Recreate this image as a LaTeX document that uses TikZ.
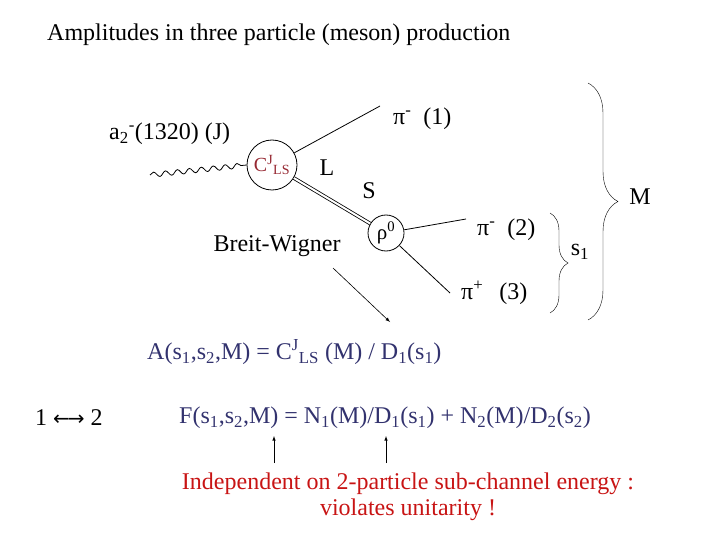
\documentclass[tikz,border=0pt]{standalone}
\usepackage{fontspec}
\setmainfont{Liberation Serif}
\newfontfamily\symfont{DejaVu Sans}
\usetikzlibrary{positioning,decorations.pathmorphing,decorations.pathreplacing}
\definecolor{eqblue}{RGB}{50,50,110}
\definecolor{vtxred}{RGB}{150,40,50}
\definecolor{txtred}{RGB}{200,20,20}
\newcommand{\dn}[1]{\textsubscript{#1}}
\newcommand{\up}[1]{\textsuperscript{#1}}

\begin{document}
\begin{tikzpicture}[x=1pt,y=-1pt,
        vertexnode/.style={circle, draw=black, thick, inner sep=0pt},
        plain/.style={font=\fontsize{24}{27}\selectfont, inner sep=1pt},
]
        \useasboundingbox (0,0) rectangle (720,540);
        \node[plain, anchor=west] (title) at (46,35) {Amplitudes in three particle (meson) production};

        \node[vertexnode, minimum size=50pt, text=vtxred, font=\fontsize{20}{20}\selectfont] (cvertex) at (272,165) {C\up{J}\dn{LS}};
        \node[vertexnode, minimum size=36pt, font=\fontsize{21}{21}\selectfont] (rho) at (386,233) {ρ\up{0}};
        \coordinate (wavein) at (150,175);
        \coordinate (pione) at (380,106);
        \coordinate (pitwo) at (466,219);
        \coordinate (pithree) at (450,293);

        \node[plain, anchor=west] (alabel) at (108,134) {a\dn{2}\up{-}(1320) (J)};
        \draw[thick, decorate, decoration={snake, amplitude=2.5pt, segment length=12pt}] (wavein) -- (cvertex.west);
        \draw[thick] (cvertex) -- (pione);
        \draw[thick, double, double distance=2pt] (cvertex) -- (rho);
        \draw[thick] (rho) -- (pitwo);
        \draw[thick] (rho) -- (pithree);

        \node[plain] (llabel) at (327,168) {L};
        \node[plain] (slabel) at (369,191) {S};
        \node[plain, anchor=west] (pionelabel) at (392,119) {π\up{-}\enspace(1)};
        \node[plain, anchor=west] (pitwolabel) at (476,230) {π\up{-}\enspace(2)};
        \node[plain, anchor=west] (pithreelabel) at (460,293) {π\up{+}\enspace\,(3)};
        \node[plain] (bwlabel) at (277,246) {Breit-Wigner};

        \coordinate (bwstart) at (333,268);
        \coordinate (bwend) at (390,322);
        \draw[semithick, -latex] (bwstart) -- (bwend);

        \draw[decorate, decoration={brace, amplitude=30pt, aspect=0.5}] (588,83) -- (588,320);
        \node[plain] (mlabel) at (640,197) {M};
        \draw[decorate, decoration={brace, amplitude=18pt}] (550,213) -- (550,313);
        \node[plain] (slabelone) at (580,252) {s\dn{1}};

        \node[plain, anchor=west, text=eqblue] (aeq) at (146,352) {A(s\dn{1},s\dn{2},M) = C\up{J}\dn{LS} (M) / D\dn{1}(s\dn{1})};
        \node[plain, anchor=west] (swap) at (34,418) {1 {\symfont\fontsize{20}{20}\selectfont ←\kern-0.1em→} 2};
        \node[plain, anchor=west, text=eqblue] (feq) at (178,418) {F(s\dn{1},s\dn{2},M) = N\dn{1}(M)/D\dn{1}(s\dn{1}) + N\dn{2}(M)/D\dn{2}(s\dn{2})};

        \coordinate (arrowone) at (274,463);
        \coordinate (arrowonetip) at (274,436);
        \coordinate (arrowtwo) at (386,463);
        \coordinate (arrowtwotip) at (386,436);
        \draw[semithick, -latex] (arrowone) -- (arrowonetip);
        \draw[semithick, -latex] (arrowtwo) -- (arrowtwotip);

        \node[plain, text=txtred, align=center] (remark) at (408,497) {Independent on 2-particle sub-channel energy :\\[-1pt]violates unitarity !};
\end{tikzpicture}
\end{document}
